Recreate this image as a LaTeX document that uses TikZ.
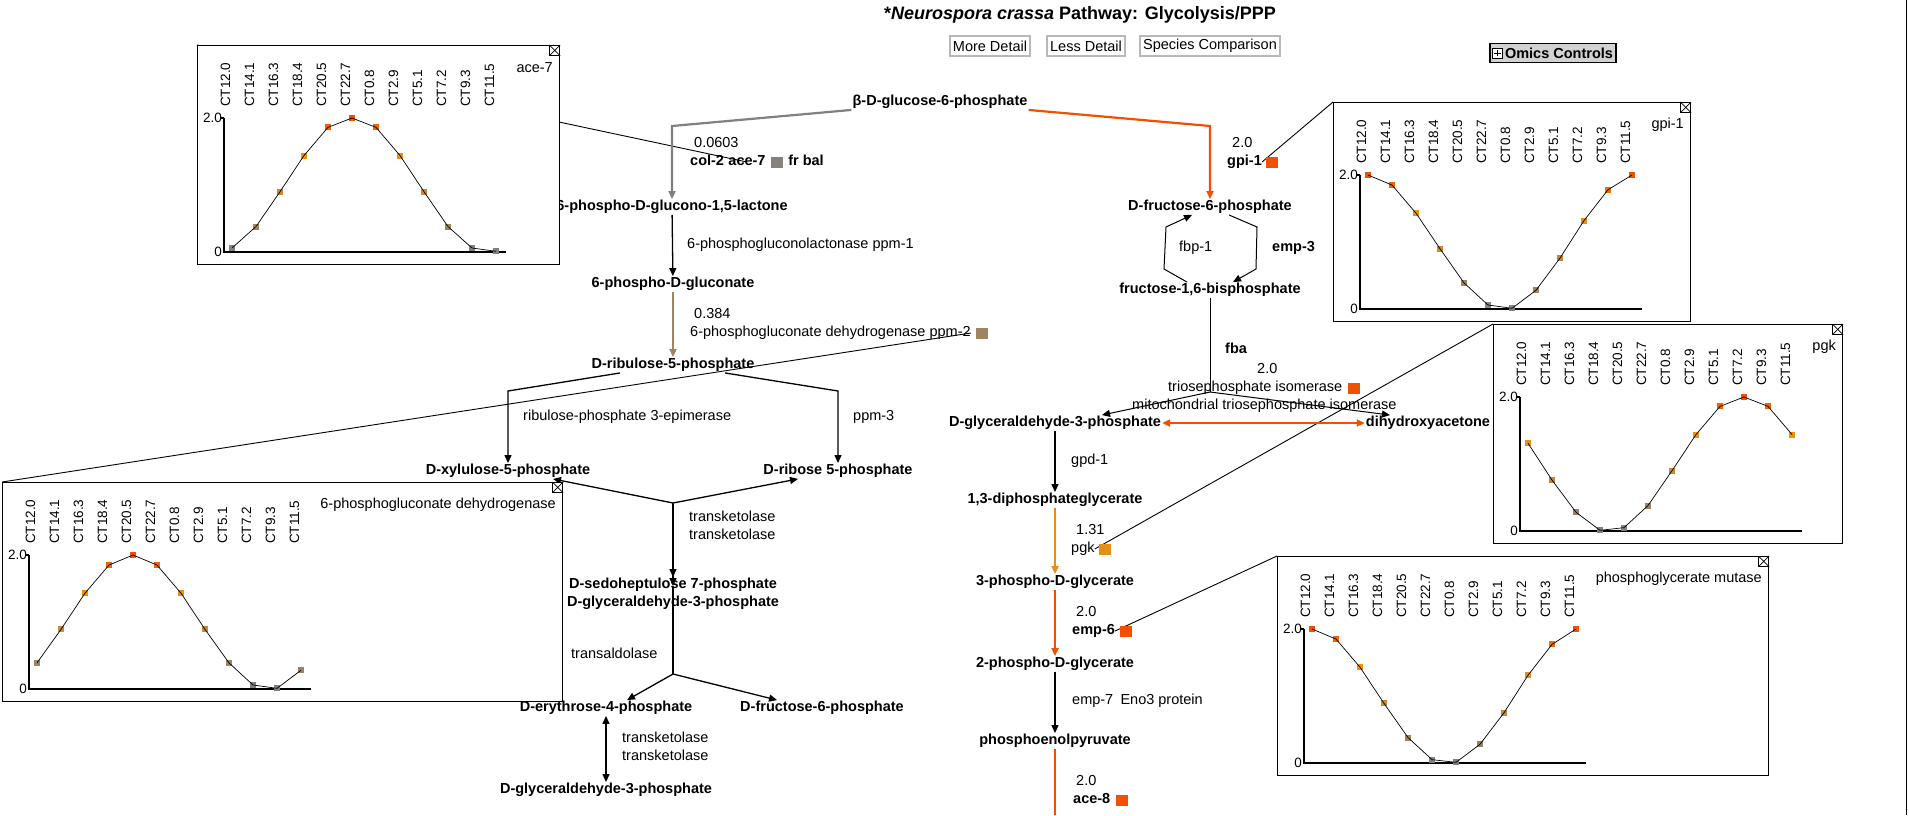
\documentclass[tikz,border=0pt]{standalone}
\usepackage{fontspec}
\setmainfont{Liberation Sans}
\usetikzlibrary{arrows.meta,positioning}

\pgfdeclarelayer{background}
\pgfsetlayers{background,main}

\definecolor{ptlow}{RGB}{128,128,128}
\definecolor{ptmid}{RGB}{205,140,50}
\definecolor{pthigh}{RGB}{245,145,0}
\definecolor{pttop}{RGB}{240,80,0}

\tikzset{
  plotbox/.style={draw,fill=white,line width=1.2pt,minimum height=219pt,inner sep=0pt},
  closebox/.style={draw,fill=white,line width=0.8pt,minimum size=10pt,inner sep=0pt},
  plottitle/.style={font=\fontsize{14.5}{16}\selectfont,inner sep=0pt,anchor=east},
  ctlabel/.style={font=\fontsize{13.5}{15}\selectfont,rotate=90,anchor=west,inner sep=0pt,
                  text height=10pt,text depth=0pt},
  ticklabel/.style={font=\fontsize{13.5}{15}\selectfont,anchor=east,inner sep=0pt},
  ptmark/.style={minimum size=6pt,inner sep=0pt},
  plotaxis/.style={line width=1.3pt},
  plotline/.style={line width=0.7pt}
}

% colour of a marker from its value (0..2)
\newcommand{\setptcolor}[1]{%
  \pgfmathsetmacro\pcv{#1}%
  \ifdim\pcv pt<1pt
    \pgfmathsetmacro\pcp{100*\pcv}\colorlet{ptcol}{ptmid!\pcp!ptlow}%
  \else\ifdim\pcv pt<1.5pt
    \pgfmathsetmacro\pcp{200*(\pcv-1)}\colorlet{ptcol}{pthigh!\pcp!ptmid}%
  \else
    \pgfmathsetmacro\pcp{200*(\pcv-1.5)}\colorlet{ptcol}{pttop!\pcp!pthigh}%
  \fi\fi}

% #1 name, #2 left, #3 top, #4 width, #5 title, #6 values
\newcommand{\exprplot}[6]{%
  \node[plotbox,minimum width=#4pt,anchor=north west] (#1) at (#2,#3) {};
  \node[closebox,anchor=north east] (#1x) at (#1.north east) {};
  \draw[line width=0.7pt] (#1x.north west) -- (#1x.south east) (#1x.north east) -- (#1x.south west);
  \node[plottitle] (#1t) at (#2+#4-6,#3+23) {#5};
  \draw[plotaxis] (#2+27,#3+73) -- (#2+27,#3+207) -- (#2+309,#3+207);
  \draw[plotaxis] (#2+24,#3+73) -- (#2+27,#3+73);
  \node[ticklabel] (#1h) at (#2+25,#3+73) {2.0};
  \node[ticklabel] (#1l) at (#2+25,#3+207) {0};
  \foreach \ct [count=\k from 0] in {CT12.0,CT14.1,CT16.3,CT18.4,CT20.5,CT22.7,CT0.8,CT2.9,CT5.1,CT7.2,CT9.3,CT11.5}
    \node[ctlabel] (#1c\k) at (#2+28+24*\k,#3+62) {\ct};
  \foreach \val [count=\k from 0] in {#6} {
    \setptcolor{\val}
    \node[ptmark,fill=ptcol] (#1p\k) at (#2+35+24*\k,#3+207-67*\val) {};
  }
  \foreach \val [count=\k from 0,remember=\val as \pv (initially 0)] in {#6} {
    \ifnum\k>0 \draw[plotline] (#2+11+24*\k,#3+207-67*\pv) -- (#2+35+24*\k,#3+207-67*\val);\fi
  }
}

\begin{document}
\begin{tikzpicture}[x=1pt,y=-1pt,>={Triangle[length=8pt,width=7pt]},
    met/.style={font=\fontsize{14.5}{16}\selectfont\bfseries,text height=10.5pt,text depth=3pt,inner sep=1pt},
    enz/.style={font=\fontsize{14.5}{16}\selectfont,anchor=west,inner sep=0pt,text height=10.5pt,text depth=3pt},
    gene/.style={enz,font=\fontsize{14.5}{16}\selectfont\bfseries},
    lvl/.style={minimum width=12pt,minimum height=11pt,inner sep=0pt},
    rxn/.style={line width=1.3pt},
    hot/.style={line width=2.2pt},
    link/.style={line width=0.9pt},
    button/.style={draw=gray!55,line width=1.5pt,fill=white,inner xsep=3pt,minimum height=20pt,
                   font=\fontsize{14.5}{16}\selectfont}]
  \useasboundingbox (0,0) rectangle (1909,815);

  % header
  \node[font=\fontsize{18}{20}\selectfont\bfseries] (title) at (1080,15)
    {*\textit{Neurospora crassa} Pathway: Glycolysis/PPP};
  \node[button] (more) at (990,46) {More Detail};
  \node[button] (less) at (1086,46) {Less Detail};
  \node[button] (species) at (1210,46) {Species Comparison};
  \node[draw,fill=gray!35,line width=1.5pt,minimum height=19pt,inner xsep=3pt,
        font=\fontsize{14.5}{16}\selectfont\bfseries] (omics) at (1553,53) {\hspace{12pt}Omics Controls};
  \node[draw,fill=white,minimum size=10pt,inner sep=0pt,right=3pt of omics.west] (omicsi) {};
  \draw ([yshift=-2pt]omicsi.north) -- ([yshift=2pt]omicsi.south)
        ([xshift=2pt]omicsi.west) -- ([xshift=-2pt]omicsi.east);

  % pentose phosphate side
  \node[met] (g6p)  at (940,102) {β-D-glucose-6-phosphate};
  \node[met] (lac)  at (672,207) {6-phospho-D-glucono-1,5-lactone};
  \node[met] (glu)  at (673,284) {6-phospho-D-gluconate};
  \node[met] (ru5p) at (673,365) {D-ribulose-5-phosphate};
  \node[met] (xu5p) at (508,471) {D-xylulose-5-phosphate};
  \node[met] (r5p)  at (838,471) {D-ribose 5-phosphate};
  \node[met] (s7p)  at (673,585) {D-sedoheptulose 7-phosphate};
  \node[met] (gap1) at (673,603) {D-glyceraldehyde-3-phosphate};
  \node[met] (e4p)  at (606,708) {D-erythrose-4-phosphate};
  \node[met] (f6p1) at (822,708) {D-fructose-6-phosphate};
  \node[met] (gap2) at (606,790) {D-glyceraldehyde-3-phosphate};

  \coordinate (c1) at (672,126);
  \coordinate (k1) at (508,391);
  \coordinate (k2) at (838,391);
  \coordinate (j1) at (673,503);
  \coordinate (j2) at (673,674);

  \draw[hot,ptlow,->] (g6p.south west) -- (c1) -- (lac);
  \draw[rxn,->] (lac) -- (glu);
  \draw[hot,ptmid!38!ptlow,->] (glu) -- (ru5p);
  \draw[rxn,->] ([xshift=-53pt]ru5p.south) -- (k1) -- (xu5p);
  \draw[rxn,->] ([xshift=52pt]ru5p.south) -- (k2) -- (r5p);
  \draw[rxn,->] (j1) -- ([xshift=45pt]xu5p.south);
  \draw[rxn,->] (j1) -- ([xshift=-40pt]r5p.south);
  \draw[rxn,->] (j1) -- (s7p);
  \draw[rxn,->] (j1) -- ([yshift=9pt]gap1.north);
  \draw[rxn] ([yshift=9pt]gap1.north) -- (j2);
  \draw[rxn,->] (j2) -- ([xshift=21pt]e4p.north);
  \draw[rxn,->] (j2) -- ([xshift=-45pt]f6p1.north);
  \draw[rxn,<->] (e4p) -- (gap2);

  \node[enz] (n1) at (694,144) {0.0603};
  \node[gene] (ga1) at (690,162) {col-2};
  \node[gene,right=4pt of ga1] (ga2) {ace-7};
  \node[lvl,fill=ptlow!94!ptmid,right=5pt of ga2] (sq1) {};
  \node[gene,right=5pt of sq1] (ga3) {fr bal};
  \node[enz] (n2) at (687,245) {6-phosphogluconolactonase ppm-1};
  \node[enz] (n3) at (694,315) {0.384};
  \node[enz] (gp) at (690,333) {6-phosphogluconate dehydrogenase ppm-2};
  \node[lvl,fill=ptmid!38!ptlow,right=5pt of gp] (sq2) {};
  \node[enz] (n4) at (523,417) {ribulose-phosphate 3-epimerase};
  \node[enz] (n5) at (853,417) {ppm-3};
  \node[enz] (n6) at (689,518) {transketolase};
  \node[enz] (n7) at (689,536) {transketolase};
  \node[enz] (n8) at (571,655) {transaldolase};
  \node[enz] (n9) at (622,739) {transketolase};
  \node[enz] (n10) at (622,757) {transketolase};

  % glycolysis side
  \node[met] (f6p)  at (1210,207) {D-fructose-6-phosphate};
  \node[met] (fbp)  at (1210,290) {fructose-1,6-bisphosphate};
  \node[met] (gap)  at (1055,423) {D-glyceraldehyde-3-phosphate};
  \node[met] (dhap) at (1428,423) {dihydroxyacetone};
  \node[met] (bpg)  at (1055,500) {1,3-diphosphateglycerate};
  \node[met] (pg3)  at (1055,582) {3-phospho-D-glycerate};
  \node[met] (pg2)  at (1055,664) {2-phospho-D-glycerate};
  \node[met] (pep)  at (1055,741) {phosphoenolpyruvate};

  \coordinate (c2) at (1210,126);
  \coordinate (m1) at (1164,269);
  \coordinate (m2) at (1166,227);
  \coordinate (m3) at (1257,227);
  \coordinate (m4) at (1256,269);
  \coordinate (j3) at (1210,392);
  \coordinate (bot) at (1055,815);

  \draw[hot,pttop,->] (g6p.south east) -- (c2) -- (f6p);
  \draw[line width=1pt,->] ([xshift=-23pt]fbp.north) -- (m1) -- (m2) -- ([xshift=-18pt]f6p.south);
  \draw[line width=1pt,->] ([xshift=19pt]f6p.south) -- (m3) -- (m4) -- ([xshift=23pt]fbp.north);
  \draw[line width=1pt] (fbp) -- (j3);
  \draw[line width=1pt,->] (j3) -- ([xshift=47pt]gap.north);
  \draw[line width=1pt,->] (j3) -- ([xshift=-38pt]dhap.north);
  \draw[hot,pttop,<->] (gap) -- (dhap);
  \draw[rxn,->] (gap) -- (bpg);
  \draw[hot,pthigh!62!ptmid,->] (bpg) -- (pg3);
  \draw[hot,pttop,->] (pg3) -- (pg2);
  \draw[rxn,->] (pg2) -- (pep);
  \draw[hot,pttop] (pep) -- (bot);

  \node[enz] (n11) at (1232,144) {2.0};
  \node[gene] (gg) at (1227,162) {gpi-1};
  \node[lvl,fill=pttop,right=4pt of gg] (sq3) {};
  \node[enz] (n12) at (1179,248) {fbp-1};
  \node[gene] (n13) at (1272,248) {emp-3};
  \node[gene] (n14) at (1225,350) {fba};
  \node[enz] (n15) at (1257,370) {2.0};
  \node[enz] (n16) at (1168,388) {triosephosphate isomerase};
  \node[lvl,fill=pttop,right=5pt of n16] (sq4) {};
  \node[enz] (n17) at (1132,406) {mitochondrial triosephosphate isomerase};
  \node[enz] (n18) at (1071,461) {gpd-1};
  \node[enz] (n19) at (1076,531) {1.31};
  \node[enz] (pk) at (1071,549) {pgk};
  \node[lvl,fill=pthigh!62!ptmid,right=4pt of pk] (sq5) {};
  \node[enz] (n20) at (1076,613) {2.0};
  \node[gene] (e6) at (1072,631) {emp-6};
  \node[lvl,fill=pttop,right=5pt of e6] (sq6) {};
  \node[enz] (n21) at (1072,701) {emp-7\enspace Eno3 protein};
  \node[enz] (n22) at (1076,782) {2.0};
  \node[gene] (a8) at (1073,800) {ace-8};
  \node[lvl,fill=pttop,right=5pt of a8] (sq7) {};

  % expression plots
  \exprplot{pa}{197}{45}{362}{ace-7}{0.06,0.38,0.90,1.44,1.86,2.0,1.86,1.44,0.90,0.38,0.06,0.01}
  \exprplot{pb}{1333}{102}{357}{gpi-1}{2.0,1.85,1.43,0.90,0.39,0.06,0.01,0.28,0.76,1.32,1.78,2.0}
  \exprplot{pc}{1493}{324}{349}{pgk}{1.31,0.76,0.28,0.01,0.05,0.38,0.90,1.44,1.86,2.0,1.86,1.44}
  \exprplot{pd}{2}{482}{560}{6-phosphogluconate dehydrogenase}{0.39,0.89,1.43,1.85,2.0,1.85,1.43,0.89,0.39,0.06,0.01,0.28}
  \exprplot{pe}{1277}{556}{491}{phosphoglycerate mutase}{2.0,1.85,1.43,0.89,0.38,0.05,0.01,0.28,0.75,1.31,1.77,2.0}

  \draw[line width=1pt] (1906.5,0) -- (1906.5,815);

  \begin{pgfonlayer}{background}
    \fill[white] (0,0) rectangle (1909,815);
    \draw[link] (ga2.center) -- (pa.north west);
    \draw[link] (gg.east) -- (pb.north west);
    \draw[link] (pk.east) -- (pc.north west);
    \draw[link] (gp.east) -- (pd.north west);
    \draw[link] (e6.east) -- (pe.north west);
  \end{pgfonlayer}
\end{tikzpicture}
\end{document}
